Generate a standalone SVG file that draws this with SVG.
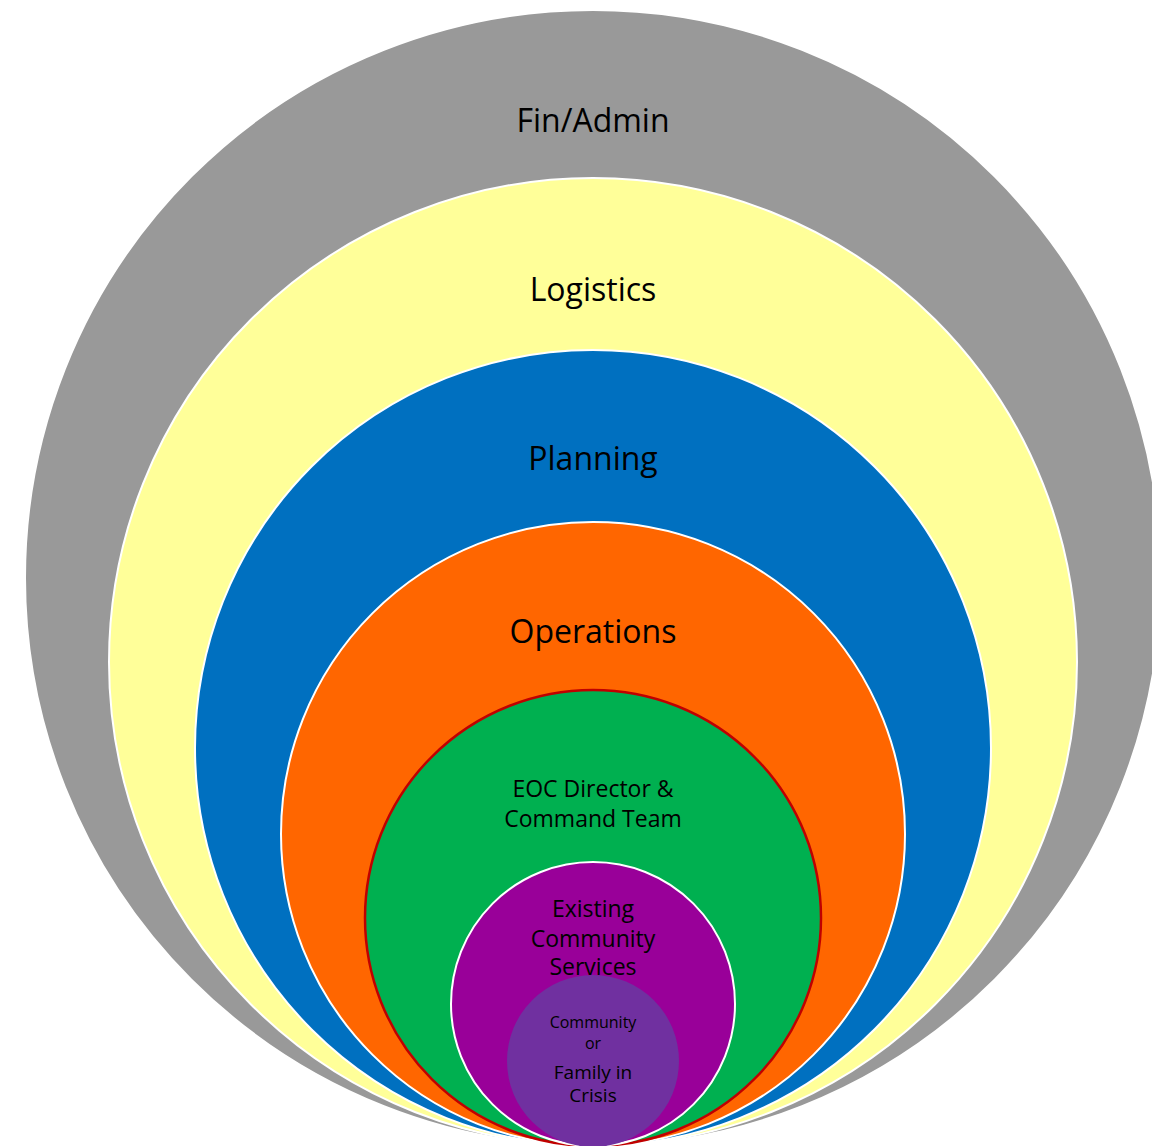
<svg xmlns="http://www.w3.org/2000/svg" width="1152" height="1146" viewBox="0 0 1152 1146">
<style>
.ring{stroke:#ffffff;stroke-width:2}
.t{font-family:"Open Sans","Liberation Sans",sans-serif;fill:#000;text-anchor:middle}
.big{font-size:32px}
.mid{font-size:23px}
.sm{font-size:16px}
.fm{font-size:19px}
</style>
<rect width="1152" height="1146" fill="#ffffff"/>
<g id="finadmin"><circle class="ring" cx="593" cy="578" r="568" fill="#999999"/><text class="t big" x="593" y="132">Fin/Admin</text></g>
<g id="logistics"><circle class="ring" cx="593" cy="662" r="484" fill="#FFFF99"/><text class="t big" x="593" y="301">Logistics</text></g>
<g id="planning"><circle class="ring" cx="593" cy="748" r="398" fill="#0070C0"/><text class="t big" x="593" y="470">Planning</text></g>
<g id="operations"><circle class="ring" cx="593" cy="834" r="312" fill="#FF6600"/><text class="t big" x="593" y="643">Operations</text></g>
<g id="eoc"><circle cx="593" cy="918" r="228" fill="#00B050" stroke="#C00000" stroke-width="2.5"/><text class="t mid" x="593" y="797">EOC Director &amp;</text><text class="t mid" x="593" y="827">Command Team</text></g>
<g id="services"><circle class="ring" cx="593" cy="1004" r="142" fill="#990099"/><text class="t mid" x="593" y="917">Existing</text><text class="t mid" x="593" y="947">Community</text><text class="t mid" x="593" y="975">Services</text></g>
<g id="crisis"><circle cx="593" cy="1061" r="86" fill="#7030A0"/><text class="t sm" x="593" y="1028">Community</text><text class="t sm" x="593" y="1049">or</text><text class="t fm" x="593" y="1079">Family in</text><text class="t fm" x="593" y="1102">Crisis</text></g>
<g id="connectors"></g>
</svg>
